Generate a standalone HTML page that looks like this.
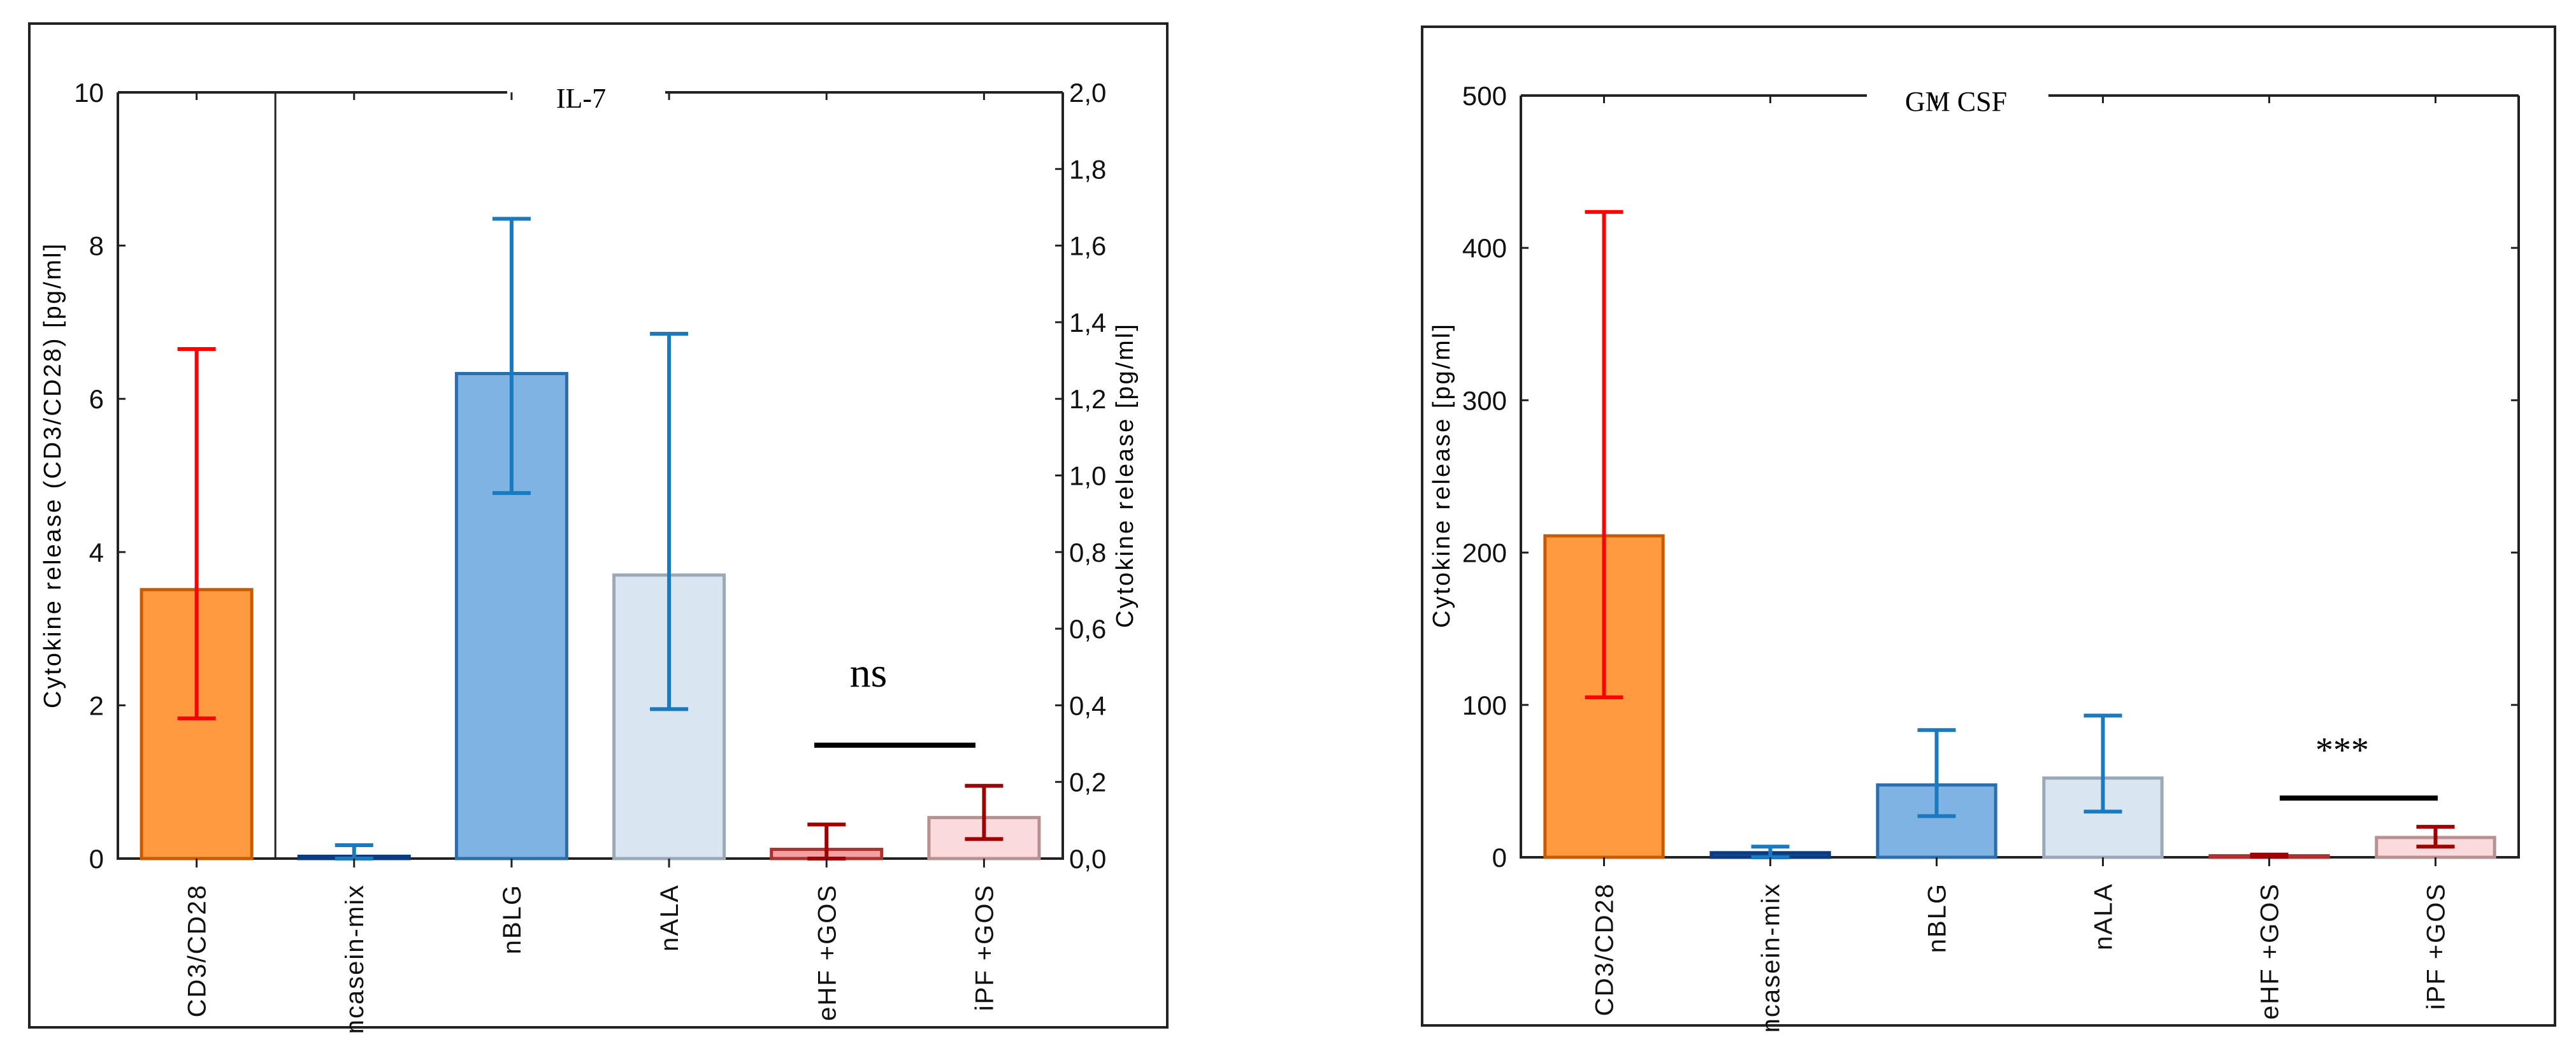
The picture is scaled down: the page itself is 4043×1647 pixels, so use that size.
<!DOCTYPE html>
<html><head><meta charset="utf-8">
<style>
html,body{margin:0;padding:0;background:#fff;}
svg{display:block;}
text{font-family:"Liberation Sans",sans-serif;}
.serif{font-family:"Liberation Serif",serif;}
</style></head>
<body>
<svg id="svg" width="4043" height="1647" viewBox="0 0 4043 1647">
<rect x="46" y="37" width="1786" height="1576" fill="none" stroke="#222" stroke-width="4"/>
<rect x="2232" y="42" width="1778" height="1568" fill="none" stroke="#222" stroke-width="4"/>
<g id="c1"></g>
<g id="c2"></g>
</svg>
<script>
const categories = ["CD3/CD28","ncasein-mix","nBLG","nALA","eHF +GOS","iPF +GOS"];
// IL-7: CD3/CD28 on left axis (0-10), others on right axis (0-2.0)
const il7Means = [3.51, 0.006, 1.266, 0.74, 0.024, 0.107];
const il7Upper = [6.65, 0.035, 1.67, 1.37, 0.089, 0.19];
const il7Lower = [1.83, 0.0, 0.954, 0.39, 0.0, 0.051];
const il7LeftTicks = ["0","2","4","6","8","10"];
const il7RightTicks = ["0.0","0.2","0.4","0.6","0.8","1.0","1.2","1.4","1.6","1.8","2.0"];
const gmMeans = [211, 3, 47.5, 52, 1, 13];
const gmUpper = [423.6, 7, 83.5, 93, 1.8, 20];
const gmLower = [105, 0, 27, 30, 0.3, 7];
const gmTicks = ["0","100","200","300","400","500"];

const fills = ["#FF9A40","#0F4C99","#7EB3E3","#D9E6F2","#F4A0A0","#FADADC"];
const strokes = ["#C85A00","#0A3A80","#2D6DAA","#9AA9B8","#B03030","#B89090"];
const errCols = ["#FF0000","#1A7AC0","#1A7AC0","#1A7AC0","#A00000","#A00000"];
const NS = "http://www.w3.org/2000/svg";
function mk(parent, tag, attrs, txt){
  const e = document.createElementNS(NS, tag);
  for (const k in attrs) e.setAttribute(k, attrs[k]);
  if (txt !== undefined) e.textContent = txt;
  parent.appendChild(e); return e;
}

function drawChart(g, cfg){
  const {L,R,T,B} = cfg;
  const band = (R-L)/categories.length;
  const xc = i => L + band*(i+0.5);
  // axes
  let e = mk(g,'line',{x1:L,y1:T,x2:L,y2:B,stroke:'#222','stroke-width':4});
   
  e = mk(g,'line',{x1:L-2,y1:B,x2:R+2,y2:B,stroke:'#222','stroke-width':4});
   
  e = mk(g,'line',{x1:R,y1:T,x2:R,y2:B,stroke:'#222','stroke-width':4});
   
  e = mk(g,'line',{x1:L,y1:T,x2:cfg.gap0,y2:T,stroke:'#222','stroke-width':4});
   
  e = mk(g,'line',{x1:cfg.gap1,y1:T,x2:R,y2:T,stroke:'#222','stroke-width':4});
   
  e = mk(g,'text',{x:cfg.titleX,y:T+24,'font-size':44,'text-anchor':'middle',class:'serif'},cfg.title);
   
  // left ticks
  cfg.leftTicks.forEach((t,i)=>{
    const v = parseFloat(t); const y = cfg.yL(v);
    let tk = mk(g,'line',{x1:L,y1:y,x2:L+12,y2:y,stroke:'#222','stroke-width':3});
     
    if (cfg.rightInward){ let t2 = mk(g,'line',{x1:R,y1:y,x2:R-12,y2:y,stroke:'#222','stroke-width':3});
        }
    let lb = mk(g,'text',{x:L-22,y:y+15,'font-size':42,'text-anchor':'end',fill:'#111'},t);
     
  });
  if (cfg.rightTicks){
    cfg.rightTicks.forEach(t=>{
      const y = cfg.yR(parseFloat(t));
      let tk = mk(g,'line',{x1:R,y1:y,x2:R-12,y2:y,stroke:'#222','stroke-width':3});
       
      let lb = mk(g,'text',{x:R+10,y:y+15,'font-size':42,fill:'#111'},t.replace('.',','));
       
    });
    let rt = mk(g,'text',{x:0,y:0,'font-size':38,'text-anchor':'middle','letter-spacing':3,transform:`translate(${R+110},746) rotate(-90)`},'Cytokine release [pg/ml]');
     
  }
  let yt = mk(g,'text',{x:0,y:0,'font-size':38,'text-anchor':'middle','letter-spacing':3,transform:`translate(${cfg.yTitleX},746) rotate(-90)`},cfg.yTitle);
   
  if (cfg.sep){ let s = mk(g,'line',{x1:L+band,y1:T,x2:L+band,y2:B,stroke:'#222','stroke-width':3});
      }
  const bw = band*cfg.barFrac;
  categories.forEach((c,i)=>{
    const ys = (i===0 || !cfg.yR) ? cfg.yL : cfg.yR;
    const x = xc(i);
    let tk = mk(g,'line',{x1:x,y1:T,x2:x,y2:T+12,stroke:'#222','stroke-width':3});
     
    const yTop = ys(cfg.means[i]);
    let b = mk(g,'rect',{x:x-bw/2,y:yTop,width:bw,height:Math.max(B-yTop,2),fill:fills[i],stroke:strokes[i],'stroke-width':5});
    
    
    const yu = ys(cfg.upper[i]), yl = ys(cfg.lower[i]);
    let eb = mk(g,'path',{d:`M${x},${yu}V${yl}M${x-30},${yu}H${x+30}M${x-30},${yl}H${x+30}`,stroke:errCols[i],'stroke-width':6,fill:'none'});
     
    let bt = mk(g,'line',{x1:x,y1:B,x2:x,y2:B+14,stroke:'#222','stroke-width':3});
     
    let lb = mk(g,'text',{x:0,y:0,'font-size':40,'text-anchor':'end','letter-spacing':2,fill:'#111',transform:`translate(${x+14},${B+40}) rotate(-90)`},c);
     
  });
  let sl = mk(g,'line',{x1:cfg.sig.x0,y1:cfg.sig.y,x2:cfg.sig.x1,y2:cfg.sig.y,stroke:'#000','stroke-width':8});
   
  let st = mk(g,'text',{x:cfg.sig.tx,y:cfg.sig.ty,'font-size':cfg.sig.fs,'text-anchor':'middle',class:'serif'},cfg.sig.label);
   
}

const T1=145,B1=1348;
drawChart(document.getElementById('c1'),{
  L:185,R:1668,T:T1,B:B1,gap0:796,gap1:1044,titleX:912,title:'IL-7',
  yL:v=>B1-(B1-T1)*v/10, yR:v=>B1-(B1-T1)*v/2,
  leftTicks:il7LeftTicks,rightTicks:il7RightTicks,rightInward:false,
  yTitleX:95,yTitle:'Cytokine release  (CD3/CD28) [pg/ml]',sep:true,barFrac:0.7,
  means:il7Means,upper:il7Upper,lower:il7Lower,
  sig:{x0:1278,x1:1531,y:1170,tx:1363,ty:1078,fs:66,label:'ns'}
});
const T2=150,B2=1346;
drawChart(document.getElementById('c2'),{
  L:2387,R:3953,T:T2,B:B2,gap0:2930,gap1:3215,titleX:3070,title:'GM CSF',
  yL:v=>B2-(B2-T2)*v/500, yR:null,
  leftTicks:gmTicks,rightTicks:null,rightInward:true,
  yTitleX:2275,yTitle:'Cytokine release [pg/ml]',sep:false,barFrac:0.71,
  means:gmMeans,upper:gmUpper,lower:gmLower,
  sig:{x0:3578,x1:3826,y:1253,tx:3676,ty:1196,fs:56,label:'***'}
});
</script>
</body></html>
